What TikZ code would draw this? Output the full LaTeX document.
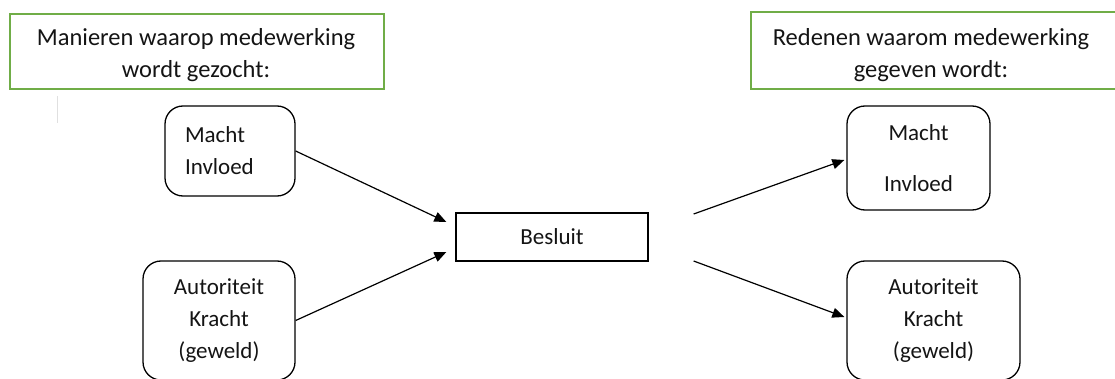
\documentclass[tikz,border=0pt]{standalone}
\usepackage{fontspec}
\setmainfont{Carlito}
\usetikzlibrary{arrows.meta,calc}
\definecolor{framegreen}{RGB}{112,173,71}
\definecolor{inkgray}{RGB}{20,20,20}
\begin{document}
\begin{tikzpicture}[x=1pt,y=-1pt,
  every node/.style={font=\fontsize{23}{32}\selectfont,text=inkgray},
  frame/.style={draw=framegreen,line width=1.5pt,inner sep=0pt},
  headtext/.style={font=\fontsize{24.5}{32}\selectfont,align=center,inner sep=0pt},
  roundbox/.style={draw,line width=1.3pt,rounded corners=18pt,inner sep=0pt,align=center},
  plainbox/.style={draw,line width=1.3pt,inner sep=0pt},
  link/.style={line width=1.2pt,-{Triangle[length=12pt,width=10pt]}}]
\clip (0,0) rectangle (1115,379);

% headings: green frames with their captions
\node[frame,minimum width=374pt,minimum height=75pt] (hl) at (197,51.5) {};
\node[headtext] (hltext) at (196,55) {Manieren waarop medewerking\\wordt gezocht:};
\node[frame,minimum width=372pt,minimum height=77pt] (hr) at (937,50.5) {};
\node[headtext] (hrtext) at (931,55) {Redenen waarom medewerking\\gegeven wordt:};

% faint marker line
\draw[black!12,line width=1pt] (57,96) -- (57,123);

% left column
\node[roundbox,minimum width=130pt,minimum height=90pt,text width=90pt,
      align=left,inner xsep=20pt] (lm) at (230,151) {Macht\\Invloed};
\node[roundbox,minimum width=152pt,minimum height=119pt] (la) at (219,320.5)
  {Autoriteit\\Kracht\\(geweld)};

% centre
\node[plainbox,minimum width=192pt,minimum height=48pt] (b) at (552,237) {Besluit};

% right column
\node[roundbox,minimum width=143pt,minimum height=104pt] (rm) at (918.5,158)
  {Macht\\[19pt]Invloed};
\node[roundbox,minimum width=173pt,minimum height=119pt] (ra) at (933.5,320.5)
  {Autoriteit\\Kracht\\(geweld)};

% connectors
\draw[link] (lm.east) -- ($(b.west)+(-9,-15)$);
\draw[link] (la.east) -- ($(b.west)+(-9,15)$);
\draw[link] ($(b.east)+(45,-23)$) -- ($(rm.west)+(-2,2)$);
\draw[link] ($(b.east)+(45,24)$) -- ($(ra.west)+(-2,-3.5)$);
\end{tikzpicture}
\end{document}
